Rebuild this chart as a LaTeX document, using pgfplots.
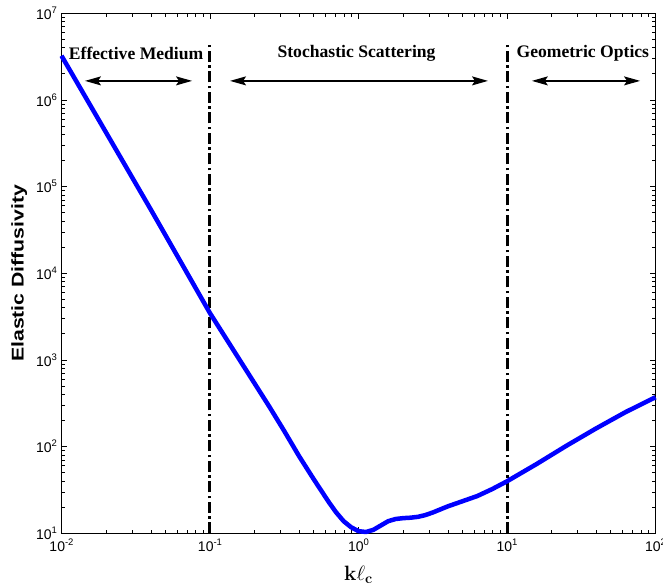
\documentclass[border=0pt]{standalone}
\usepackage[no-math]{fontspec}
\setmainfont{Liberation Sans}
\newfontfamily\timesfont{Liberation Serif}
\usepackage{graphicx}
\usepackage{pgfplots}
\pgfplotsset{compat=1.18}
\usetikzlibrary{arrows.meta}
\pgfplotstableread{
x y
0.01 3.2359e6
0.015849 8.3176e5
0.025119 2.1380e5
0.039811 5.4954e4
0.063096 1.3804e4
0.1 3467.4
0.15849 1000
0.25119 288.4
0.31623 151.4
0.39811 77.6
0.50119 41.69
0.63096 22.91
0.70795 17.38
0.79433 13.80
0.89125 11.75
1.0 10.59
1.1220 10.35
1.2589 10.96
1.4125 12.30
1.5849 13.80
1.7783 14.62
1.9953 14.96
2.2387 15.14
2.5119 15.49
2.8184 16.22
3.1623 17.38
3.5481 18.84
3.9811 20.42
4.4668 21.88
5.0119 23.44
5.6234 25.12
6.3096 26.92
7.0795 29.51
7.9433 32.36
8.9125 35.89
10 39.81
12.589 50.12
15.849 63.10
25.119 102.3
39.811 162.2
63.096 251.2
100 371.5
}\curvedata
\newcommand{\tl}[1]{10\raisebox{0.42em}{\fontsize{9.5}{10}\selectfont #1}}
\begin{document}
\begin{tikzpicture}
\useasboundingbox (0,0) rectangle (663pt,587pt);
\begin{axis}[
  at={(61.5pt,53.7pt)}, anchor=south west,
  scale only axis, width=594pt, height=520pt,
  xmode=log, ymode=log,
  xmin=0.01, xmax=100, ymin=10, ymax=1e7,
  xtick={0.01,0.1,1,10,100},
  xticklabels={\tl{-2},\tl{-1},\tl{0},\tl{1},\tl{2}},
  ytick={10,100,1000,1e4,1e5,1e6,1e7},
  yticklabels={\tl{1},\tl{2},\tl{3},\tl{4},\tl{5},\tl{6},\tl{7}},
  minor xtick={0.02,0.03,0.04,0.05,0.06,0.07,0.08,0.09,0.2,0.3,0.4,0.5,0.6,0.7,0.8,0.9,2,3,4,5,6,7,8,9,20,30,40,50,60,70,80,90},
  minor ytick={20,30,40,50,60,70,80,90,200,300,400,500,600,700,800,900,2000,3000,4000,5000,6000,7000,8000,9000,2e4,3e4,4e4,5e4,6e4,7e4,8e4,9e4,2e5,3e5,4e5,5e5,6e5,7e5,8e5,9e5,2e6,3e6,4e6,5e6,6e6,7e6,8e6,9e6},
  tick label style={font=\fontsize{14}{16}\selectfont},
  xticklabel style={yshift=-2pt},
  yticklabel style={xshift=-1pt},
  tick align=inside,
  major tick length=6pt, minor tick length=3.5pt,
  every tick/.style={black, line width=0.8pt},
  axis line style={line width=1.3pt},
  clip=false,
  xlabel={\fontsize{21}{23}\selectfont$\mathbf{k}\ell_{\mathbf{c}}$},
  ylabel={\scalebox{1.25}[1]{\fontsize{17}{19}\selectfont\bfseries Elastic Diffusivity}},
  every axis x label/.style={at={(axis description cs:0.5,-0.08)}, anchor=center},
  every axis y label/.style={at={(axis description cs:-0.071,0.5)}, anchor=center, rotate=90},
]
\addplot[black, line width=3pt, dash pattern=on 11pt off 3.5pt on 2.5pt off 3.5pt] coordinates {(0.1,10) (0.1,4.3e6)};
\addplot[black, line width=3pt, dash pattern=on 11pt off 3.5pt on 2.5pt off 3.5pt] coordinates {(10,10) (10,4.3e6)};
\addplot[blue, line width=4.5pt, line join=round] table[x=x,y=y] {\curvedata};
\addplot[black, line width=1.4pt, {Stealth[length=16pt,width=9pt,inset=3pt]}-{Stealth[length=16pt,width=9pt,inset=3pt]}] coordinates {(0.01439,1.66e6) (0.0757,1.66e6)};
\addplot[black, line width=1.4pt, {Stealth[length=16pt,width=9pt,inset=3pt]}-{Stealth[length=16pt,width=9pt,inset=3pt]}] coordinates {(0.1365,1.66e6) (7.45,1.66e6)};
\addplot[black, line width=1.4pt, {Stealth[length=16pt,width=9pt,inset=3pt]}-{Stealth[length=16pt,width=9pt,inset=3pt]}] coordinates {(14.7,1.66e6) (78.7,1.66e6)};
\node[font=\timesfont\bfseries\fontsize{17.6}{20}\selectfont] at (axis cs:0.0318,3.45e6) {Effective Medium};
\node[font=\timesfont\bfseries\fontsize{17.6}{20}\selectfont] at (axis cs:0.97,3.45e6) {Stochastic Scattering};
\node[font=\timesfont\bfseries\fontsize{17.6}{20}\selectfont] at (axis cs:32.4,3.45e6) {Geometric Optics};
\end{axis}
\end{tikzpicture}
\end{document}
